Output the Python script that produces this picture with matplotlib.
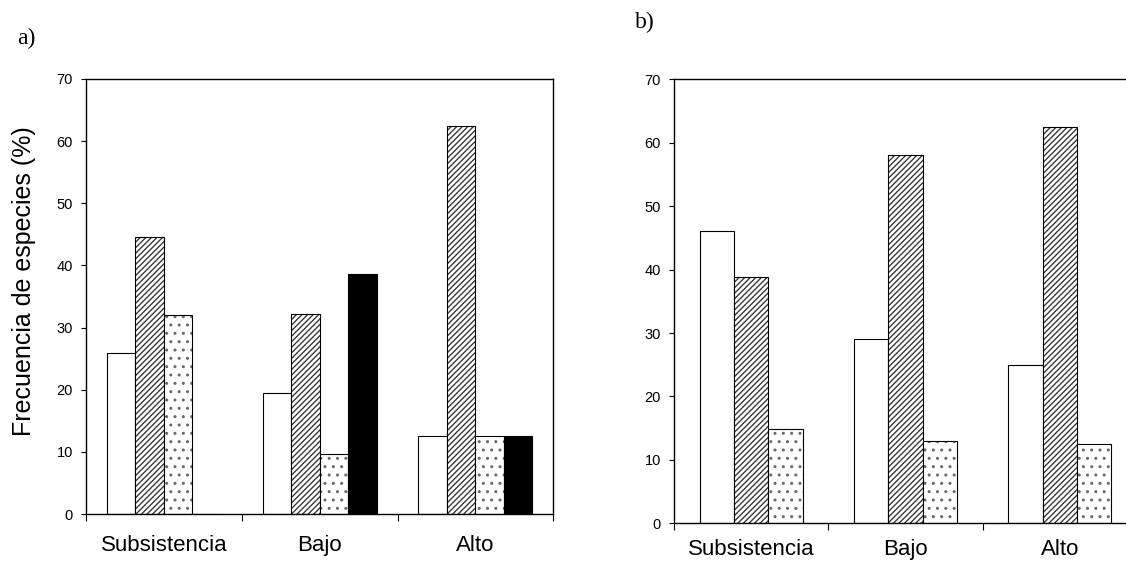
import matplotlib
matplotlib.use('Agg')
import matplotlib.pyplot as plt
import numpy as np

plt.rcParams['font.family'] = ['Liberation Sans', 'DejaVu Sans']
plt.rcParams['hatch.linewidth'] = 1.0

# ---------------- data ----------------
categories = ['Subsistencia', 'Bajo', 'Alto']

a_white = [25.9, 19.4, 12.5]
a_hatch = [44.5, 32.2, 62.5]
a_dots = [32.0, 9.6, 12.5]
a_black = [0.0, 38.7, 12.5]

b_white = [46.1, 29.0, 25.0]
b_hatch = [38.9, 58.0, 62.5]
b_dots = [14.9, 13.0, 12.5]

yticks = [0, 10, 20, 30, 40, 50, 60, 70]
ylabel = 'Frecuencia de especies (%)'
panel_labels = ['a)', 'b)']

# ---------------- styles ----------------
st_white = dict(facecolor='white', hatch=None, hatchcolor='white')
st_hatch = dict(facecolor='white', hatch='//////', hatchcolor='#3a3a3a')
st_dots = dict(facecolor='white', hatch='..', hatchcolor='#6a6a6a')
st_black = dict(facecolor='black', hatch=None, hatchcolor='black')

W, H = 1126, 562
fig = plt.figure(figsize=(W / 100, H / 100), dpi=100)


def px_axes(left, top, right, bottom):
    return fig.add_axes([left / W, 1 - bottom / H, (right - left) / W, (bottom - top) / H])


def draw(ax, series, styles, width, label_pad):
    n = len(series)
    x = np.arange(len(categories)) + 0.5
    for j, (vals, st) in enumerate(zip(series, styles)):
        offs = (j - (n - 1) / 2) * width
        # fill + hatch (hatch colour comes from edgecolor)
        ax.bar(x + offs, vals, width, facecolor=st['facecolor'], edgecolor=st['hatchcolor'],
               linewidth=0, hatch=st['hatch'])
        # black outline on top
        ax.bar(x + offs, vals, width, fill=False, edgecolor='black', linewidth=0.8)
    ax.set_xlim(0, len(categories))
    ax.set_ylim(0, 70)
    ax.set_yticks(yticks)
    ax.set_xticks(np.arange(len(categories) + 1))
    ax.set_xticklabels([])
    ax.set_xticks(x, minor=True)
    ax.set_xticklabels(categories, minor=True, fontsize=16)
    ax.tick_params(axis='x', which='major', direction='out', length=5, width=0.8)
    ax.tick_params(axis='x', which='minor', length=0, pad=label_pad)
    ax.tick_params(axis='y', direction='out', length=3.5, width=0.8, pad=6, labelsize=10.5)
    for sp in ax.spines.values():
        sp.set_linewidth(1.0)
        sp.set_color('black')


axa = px_axes(86, 79, 553.3, 514)
draw(axa, [a_white, a_hatch, a_dots, a_black], [st_white, st_hatch, st_dots, st_black], 0.183, 15)

axb = px_axes(674, 79.3, 674 + 463, 523.3)
draw(axb, [b_white, b_hatch, b_dots], [st_white, st_hatch, st_dots], 0.223, 11)

fig.text(24 / W, 1 - 281 / H, ylabel, rotation=90, ha='center', va='center', fontsize=18)
fig.text(26.5 / W, 1 - 38 / H, panel_labels[0], ha='center', va='center', fontsize=17,
         family=['Liberation Serif', 'DejaVu Serif'])
fig.text(645 / W, 1 - 22.5 / H, panel_labels[1], ha='center', va='center', fontsize=17,
         family=['Liberation Serif', 'DejaVu Serif'])

fig.savefig('out.png', dpi=100)
